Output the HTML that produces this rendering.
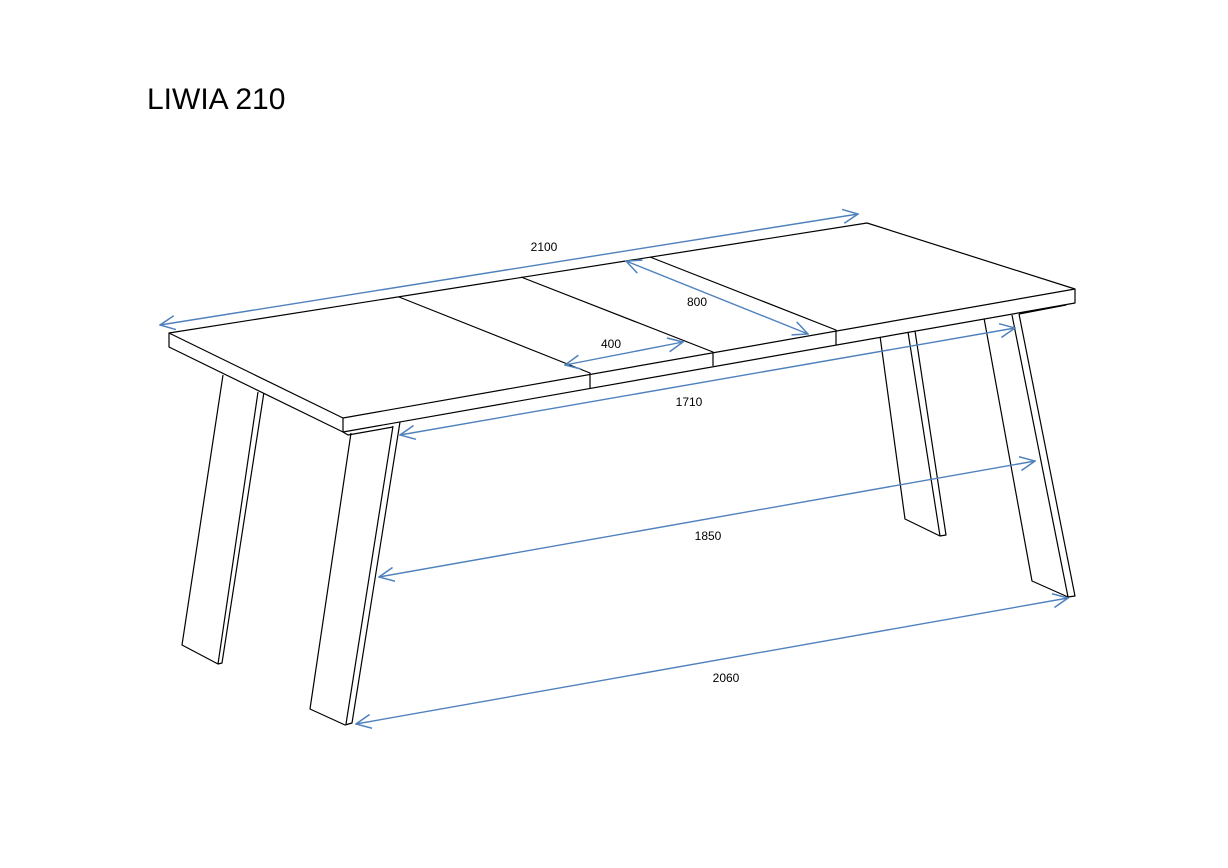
<!DOCTYPE html>
<html><head><style>
html,body{margin:0;padding:0;background:#fff;}
svg{display:block;}
</style></head><body>
<svg width="1228" height="868" viewBox="0 0 1228 868" xmlns="http://www.w3.org/2000/svg">
<defs>
<marker id="a" viewBox="0 0 20 20" refX="19" refY="10" markerWidth="20" markerHeight="20" markerUnits="userSpaceOnUse" orient="auto-start-reverse">
<path d="M4,3 L19,10 L4,17" fill="none" stroke="#4f81bd" stroke-width="1.5"/>
</marker>
</defs>
<text x="147" y="109" font-family="Liberation Sans, sans-serif" font-size="30" fill="#000">LIWIA 210</text>
<g fill="none" stroke="#000" stroke-width="1.2" stroke-linejoin="round">
<!-- legs -->
<path d="M223,375 L182,645 L218,664 L222,663 L264,392 M258,392 L218,664"/>
<path d="M351,433 L310,709 L345,725 L352,723 L400,422 M393,426 L346,724"/>
<path d="M880,336 L905,519 L940,536 L946,535 L915,331 M908,332 L940,536"/>
<path d="M984,318 L1032,581 L1068,597 L1075,596 L1019,314 M1012,315 L1068,597"/>
<!-- apron lines -->
<path d="M343,432 L348,435 L393,427"/>
<path d="M1019,314 L1066,305 L1066,301"/>
<!-- top -->
<path d="M169,333 L867,223 L1075,289 L1075,303 L343,432 L169,347 Z" fill="#fff"/>
<path d="M169,333 L343,418 L1075,289"/>
<path d="M343,418 L343,432"/>
<path d="M399,297 L590,373 L590,388"/>
<path d="M521,277 L713,352 L713,366"/>
<path d="M650,257 L836,330 L836,345"/>
</g>
<g stroke="#4f81bd" stroke-width="1.4" fill="none" marker-start="url(#a)" marker-end="url(#a)">
<line x1="160" y1="325" x2="858" y2="214"/>
<line x1="626" y1="261" x2="808" y2="334"/>
<line x1="565" y1="365" x2="683" y2="342"/>
<line x1="400" y1="435" x2="1015" y2="328"/>
<line x1="379" y1="577" x2="1035" y2="461"/>
<line x1="356" y1="724" x2="1068" y2="598"/>
</g>
<g font-family="Liberation Sans, sans-serif" font-size="12" fill="#000" text-anchor="middle">
<text x="544" y="251">2100</text>
<text x="697" y="306">800</text>
<text x="611" y="348">400</text>
<text x="689" y="406">1710</text>
<text x="708" y="540">1850</text>
<text x="726" y="682">2060</text>
</g>
</svg>
</body></html>
